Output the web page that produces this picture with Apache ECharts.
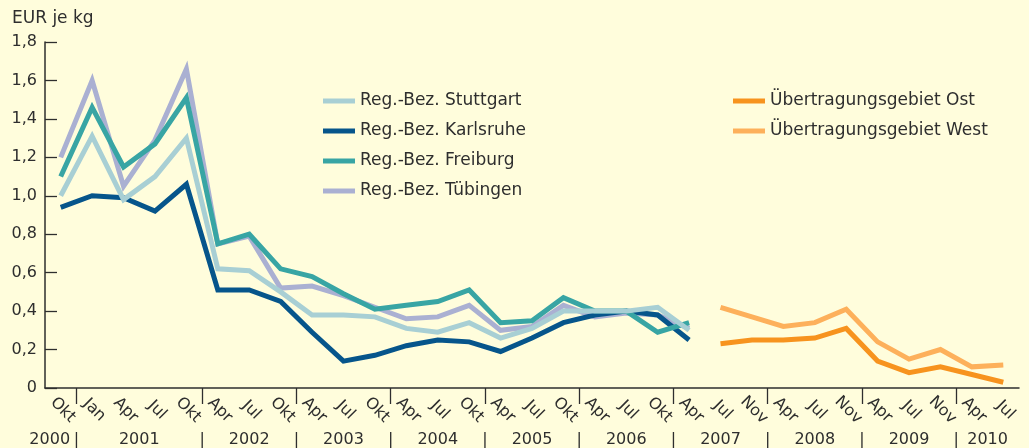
<!DOCTYPE html>
<html>
<head>
<meta charset="utf-8">
<script src="https://cdn.jsdelivr.net/npm/echarts@6/dist/echarts.min.js"></script>
<style>
  html, body { margin: 0; padding: 0; background: #fffddc; }
  #chart { width: 1029px; height: 448px; }
</style>
</head>
<body>
<div id="chart"></div>
<script>
// x categories (quarterly / 4-monthly reporting dates)
var months = ['Okt', 'Jan', 'Apr', 'Jul', 'Okt', 'Apr', 'Jul', 'Okt', 'Apr', 'Jul', 'Okt',
  'Apr', 'Jul', 'Okt', 'Apr', 'Jul', 'Okt', 'Apr', 'Jul', 'Okt', 'Apr', 'Jul', 'Nov',
  'Apr', 'Jul', 'Nov', 'Apr', 'Jul', 'Nov', 'Apr', 'Jul'];
var years = ['2000', '2001', '2002', '2003', '2004', '2005', '2006', '2007', '2008', '2009', '2010'];
var monthsPerYear = [1, 4, 3, 3, 3, 3, 3, 3, 3, 3, 2];

// EUR je kg, Okt 2000 .. Apr 2007
var stuttgart = [1.00, 1.31, 0.98, 1.10, 1.30, 0.62, 0.61, 0.50, 0.38, 0.38, 0.37, 0.31, 0.29, 0.34, 0.26, 0.31, 0.40, 0.40, 0.40, 0.42, 0.30];
var karlsruhe = [0.94, 1.00, 0.99, 0.92, 1.06, 0.51, 0.51, 0.45, 0.29, 0.14, 0.17, 0.22, 0.25, 0.24, 0.19, 0.26, 0.34, 0.38, 0.40, 0.38, 0.25];
var freiburg  = [1.10, 1.46, 1.15, 1.27, 1.51, 0.75, 0.80, 0.62, 0.58, 0.49, 0.41, 0.43, 0.45, 0.51, 0.34, 0.35, 0.47, 0.40, 0.40, 0.29, 0.34];
var tuebingen = [1.20, 1.60, 1.05, 1.29, 1.66, 0.75, 0.79, 0.52, 0.53, 0.48, 0.42, 0.36, 0.37, 0.43, 0.30, 0.32, 0.43, 0.37, 0.39, 0.38, 0.31];
// EUR je kg, Jul 2007 .. Jul 2010
var ost  = [0.23, 0.25, 0.25, 0.26, 0.31, 0.14, 0.08, 0.11, 0.07, 0.03];
var west = [0.42, 0.37, 0.32, 0.34, 0.41, 0.24, 0.15, 0.20, 0.11, 0.12];

var ink = '#2e2e2e';
var font = 'DejaVu Sans';

// old series fill the first slots, new ones the rest
function padFront(arr) {
  var out = [];
  for (var i = 0; i < months.length - arr.length; i++) out.push(null);
  return out.concat(arr);
}
function padBack(arr) {
  var out = arr.slice();
  while (out.length < months.length) out.push(null);
  return out;
}

// year row: separators between years, labels centred on each year
var yearBreaks = [], yearCenters = [], yearText = {};
var start = 0;
for (var y = 0; y < years.length; y++) {
  var n = monthsPerYear[y];
  var c = n === 1 ? start + 0.15 : start + n / 2; // single-month year sits left of its separator
  yearCenters.push(c);
  yearText[c] = years[y];
  start += n;
  if (y < years.length - 1) yearBreaks.push(start);
}

function line(name, data, color) {
  return {
    name: name,
    type: 'line',
    data: data,
    showSymbol: false,
    symbol: 'none',
    connectNulls: false,
    itemStyle: { color: color },
    lineStyle: { color: color, width: 5, join: 'miter', miterLimit: 8, cap: 'butt' },
    emphasis: { disabled: true },
    animation: false
  };
}

var chart = echarts.init(document.getElementById('chart'));
chart.setOption({
  backgroundColor: '#fffddc',
  textStyle: { fontFamily: font, color: ink },
  title: {
    text: 'EUR je kg',
    left: 12, top: 10, padding: 0,
    textStyle: { fontFamily: font, fontSize: 17, fontWeight: 'normal', color: ink }
  },
  legend: [
    {
      data: ['Reg.-Bez. Stuttgart', 'Reg.-Bez. Karlsruhe', 'Reg.-Bez. Freiburg', 'Reg.-Bez. Tübingen'],
      orient: 'vertical', left: 323, top: 91, padding: 0,
      icon: 'rect', itemWidth: 32, itemHeight: 5, itemGap: 10,
      textStyle: { fontFamily: font, fontSize: 17, color: ink, lineHeight: 20 },
      selectedMode: false
    },
    {
      data: ['Übertragungsgebiet Ost', 'Übertragungsgebiet West'],
      orient: 'vertical', left: 733, top: 91, padding: 0,
      icon: 'rect', itemWidth: 32, itemHeight: 5, itemGap: 10,
      textStyle: { fontFamily: font, fontSize: 17, color: ink, lineHeight: 20 },
      selectedMode: false
    }
  ],
  grid: { left: 45, right: 10, top: 42, bottom: 60, containLabel: false },
  xAxis: [
    {
      type: 'category',
      data: months,
      boundaryGap: true,
      axisLine: { onZero: false, lineStyle: { color: ink, width: 1.5 } },
      axisTick: { inside: true, length: 11, interval: 0, lineStyle: { color: ink, width: 1.3 } },
      axisLabel: {
        interval: 0, rotate: -45, align: 'center', verticalAlign: 'middle',
        margin: 20, fontSize: 16, color: ink, fontFamily: font, padding: [0, 0, 0, 6]
      },
      splitLine: { show: false }
    },
    {
      type: 'value',
      min: 0, max: months.length,
      position: 'bottom',
      axisLine: { show: false, onZero: false },
      axisTick: {
        show: true, inside: false, length: 16,
        customValues: yearBreaks,
        lineStyle: { color: ink, width: 1.3 }
      },
      axisLabel: {
        customValues: yearCenters.concat(yearBreaks),
        margin: 44, fontSize: 16, color: ink, fontFamily: font,
        formatter: function (v) { return yearText[v] !== undefined ? yearText[v] : '|'; }
      },
      splitLine: { show: false }
    }
  ],
  yAxis: {
    type: 'value',
    min: 0, max: 1.8, interval: 0.2,
    axisLine: { show: true, lineStyle: { color: ink, width: 1.5 } },
    axisTick: { show: true, inside: true, length: 12, lineStyle: { color: ink, width: 1.3 } },
    axisLabel: {
      margin: 8, fontSize: 16, color: ink, fontFamily: font,
      formatter: function (v) { return v === 0 ? '0' : v.toFixed(1).replace('.', ','); }
    },
    splitLine: { show: false }
  },
  // drawing order: Tübingen below, Stuttgart on top
  series: [
    line('Reg.-Bez. Tübingen', padBack(tuebingen), '#aab0d2'),
    line('Reg.-Bez. Karlsruhe', padBack(karlsruhe), '#06558b'),
    line('Reg.-Bez. Freiburg', padBack(freiburg), '#38a5a4'),
    line('Reg.-Bez. Stuttgart', padBack(stuttgart), '#a8cfd4'),
    line('Übertragungsgebiet Ost', padFront(ost), '#f7931e'),
    line('Übertragungsgebiet West', padFront(west), '#fdb05b')
  ]
});
</script>
</body>
</html>
